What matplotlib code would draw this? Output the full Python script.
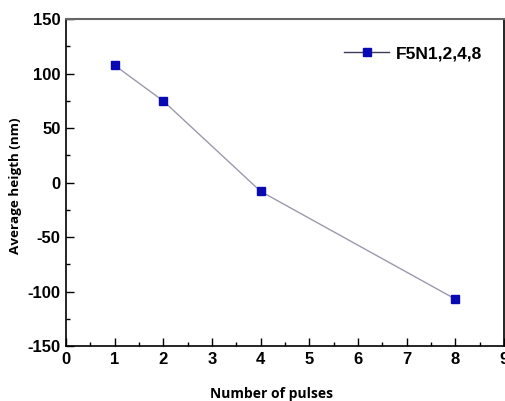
import matplotlib
matplotlib.use("Agg")
import matplotlib.pyplot as plt
from matplotlib.ticker import MultipleLocator

plt.rcParams["axes.unicode_minus"] = False

pulses = [1, 2, 4, 8]
avg_height = [107.5, 74.8, -8.1, -106.9]
series_label = "F5N1,2,4,8"
x_label = "Number of pulses"
y_label = "Average heigth (nm)"

fig = plt.figure(figsize=(5.06, 4.01), dpi=100)
ax = fig.add_axes([0.1304, 0.137, 0.8656, 0.8156])

line, = ax.plot(pulses, avg_height, color="#9a9aaa", lw=1.0, marker="s", ms=5.5,
                mfc="#0a0ab4", mec="#0a0ab4", label=series_label)

ax.set_xlim(0, 9)
ax.set_ylim(-150, 150)
ax.xaxis.set_major_locator(MultipleLocator(1))
ax.xaxis.set_minor_locator(MultipleLocator(0.5))
ax.yaxis.set_major_locator(MultipleLocator(50))
ax.yaxis.set_minor_locator(MultipleLocator(25))
ax.tick_params(which="both", direction="in", top=False, right=False, width=1.0)
ax.tick_params(which="major", length=6, labelsize=12, pad=4)
ax.tick_params(which="minor", length=3)
for lab in ax.get_xticklabels() + ax.get_yticklabels():
    lab.set_fontfamily("Liberation Sans")
    lab.set_fontweight("bold")

for side in ["left", "bottom", "right"]:
    ax.spines[side].set_color("black")
    ax.spines[side].set_linewidth(1.2)
ax.spines["top"].set_color("#666666")
ax.spines["top"].set_linewidth(1.5)

ax.set_xlabel(x_label, fontfamily="Open Sans", fontweight="bold", fontsize=10)
ax.set_ylabel(y_label, fontfamily="Open Sans", fontweight="bold", fontsize=9.7)
ax.xaxis.set_label_coords(0.469, -0.124)
ax.yaxis.set_label_coords(-0.1, 0.49)

leg = ax.legend(loc="upper right", bbox_to_anchor=(0.985, 0.965), frameon=False,
                handlelength=2.6, handletextpad=0.35,
                prop={"family": "Liberation Sans", "weight": "bold", "size": 12.5})
for h in leg.get_lines():
    h.set_color("#3c3c5a")
    h.set_markerfacecolor("#0a0ab4")
    h.set_markeredgecolor("#0a0ab4")

fig.savefig("out.png", dpi=100)
